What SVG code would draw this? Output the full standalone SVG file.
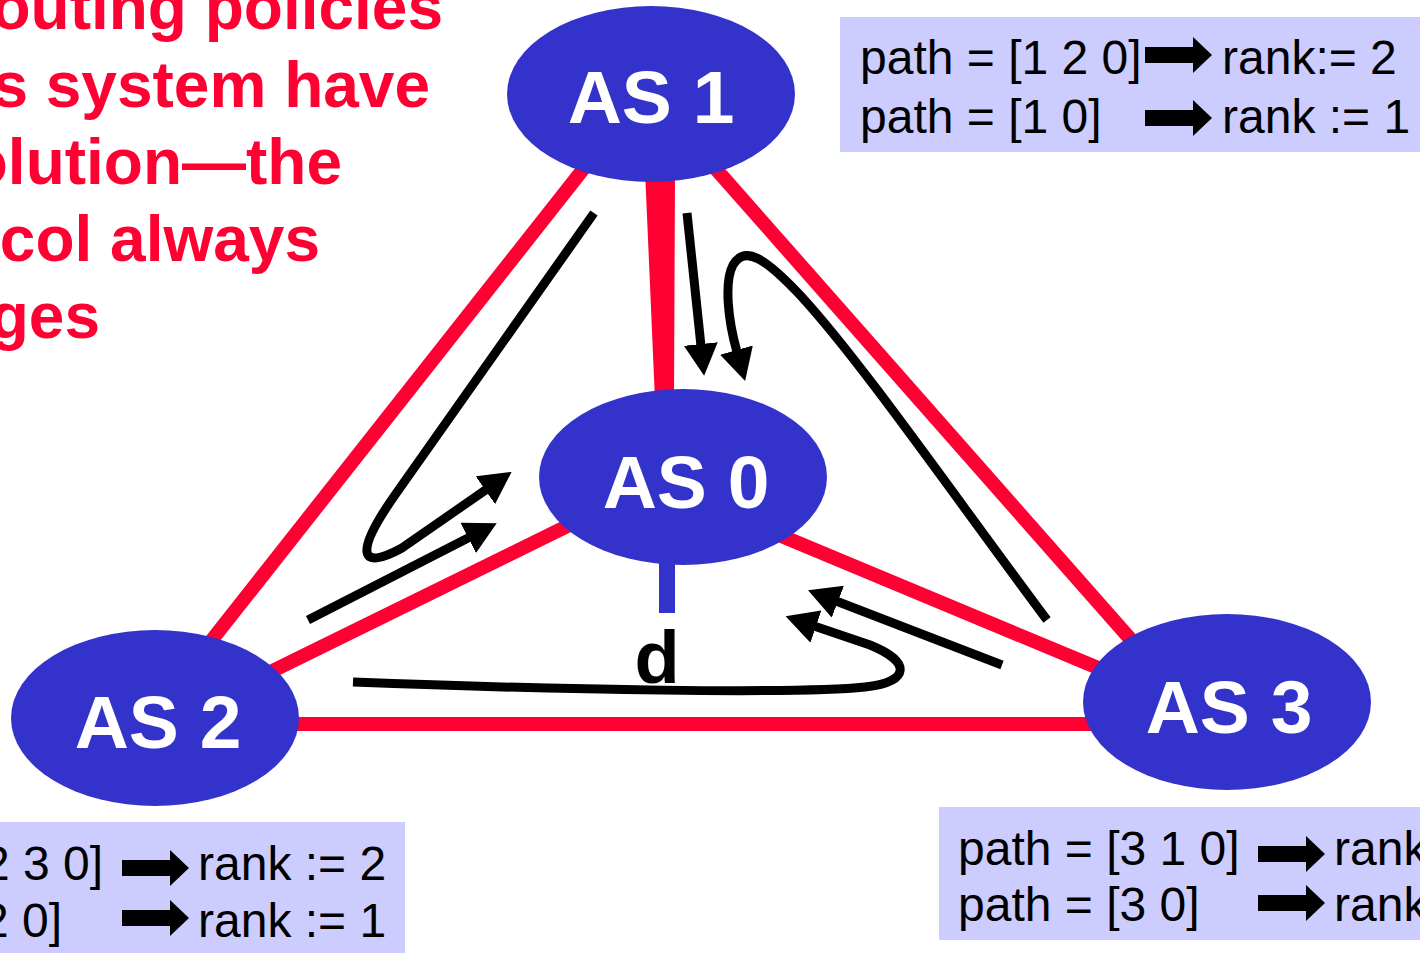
<svg xmlns="http://www.w3.org/2000/svg" width="1420" height="953" viewBox="0 0 1420 953">
<defs>
<style>
.red{stroke:#FF0033;stroke-width:14;fill:none}
.as{fill:#3333CC}
.lbl{font-family:"Liberation Sans",Arial,sans-serif;font-weight:bold;font-size:75px;fill:#FFFFFF;text-anchor:middle}
.note{font-family:"Liberation Sans",Arial,sans-serif;font-weight:bold;font-size:64px;fill:#FF0033;text-anchor:end}
.box{fill:#CCCCFF}
.bt{font-family:"Liberation Sans",Arial,sans-serif;font-size:48px;fill:#000000}
.flow{stroke:#000000;stroke-width:9;fill:none;marker-end:url(#ah)}
</style>
<marker id="ah" markerUnits="userSpaceOnUse" markerWidth="34" markerHeight="34" viewBox="0 0 34 34" refX="2" refY="17" orient="auto">
<path d="M0,0 L32,17 L0,34 Z" fill="#000000"/>
</marker>
<path id="blk" d="M0,-8 H48 V-18 L67,0 L48,18 V8 H0 Z" fill="#000000"/>
</defs>
<rect width="1420" height="953" fill="#FFFFFF"/>

<g id="note">
<text class="note" x="443" y="29">outing policies</text>
<text class="note" x="430" y="107">s system have</text>
<text class="note" x="342" y="184">olution—the</text>
<text class="note" x="320" y="261">col always</text>
<text class="note" x="100" y="338">ges</text>
</g>

<g id="links">
<line class="red" x1="592" y1="158" x2="204" y2="650"/>
<line class="red" x1="708" y1="160" x2="1140" y2="650"/>
<line class="red" x1="600" y1="510" x2="250" y2="682"/>
<line class="red" x1="760" y1="527" x2="1115" y2="675"/>
<line class="red" x1="280" y1="724" x2="1100" y2="724"/>
<polygon points="645,170 675,170 674,400 655,400" fill="#FF0033"/>
<rect x="659" y="555" width="16" height="58" fill="#3333CC"/>
</g>

<g id="as1">
<ellipse class="as" cx="651" cy="94" rx="144" ry="88"/>
<text class="lbl" x="651" y="123">AS 1</text>
</g>
<g id="as0">
<ellipse class="as" cx="683" cy="477" rx="144" ry="88"/>
<text class="lbl" x="686" y="508">AS 0</text>
</g>
<g id="as2">
<ellipse class="as" cx="155" cy="718" rx="144" ry="88"/>
<text class="lbl" x="158" y="748">AS 2</text>
</g>
<g id="as3">
<ellipse class="as" cx="1227" cy="702" rx="144" ry="88"/>
<text class="lbl" x="1229" y="733">AS 3</text>
</g>

<g id="d">
<text x="657" y="683" font-family="Liberation Sans, Arial, sans-serif" font-weight="bold" font-size="74" fill="#000000" text-anchor="middle">d</text>
</g>

<g id="connectors">
<path class="flow" d="M594,213 L395,495 C355,552 358,572 402,548 L487,489"/>
<path class="flow" d="M308,620 L470,537"/>
<path class="flow" d="M687,213 L701,346"/>
<path class="flow" d="M1047,620 C950,490 860,360 800,295 C765,258 745,245 733,265 C724,282 728,320 737,352"/>
<path class="flow" d="M1002,665 L836,601"/>
<path class="flow" d="M353,682 C560,690 800,694 865,687 C910,682 912,662 870,645 L814,626"/>
</g>

<g id="box1">
<rect class="box" x="840" y="17" width="580" height="135"/>
<text class="bt" x="860" y="74">path = [1 2 0]</text>
<text class="bt" x="860" y="133">path = [1 0]</text>
<use href="#blk" x="1145" y="55"/>
<use href="#blk" x="1145" y="118"/>
<text class="bt" x="1222" y="74">rank:= 2</text>
<text class="bt" x="1222" y="133">rank := 1</text>
</g>

<g id="box2">
<rect class="box" x="0" y="822" width="405" height="131"/>
<text class="bt" x="103" y="880" text-anchor="end">2 3 0]</text>
<text class="bt" x="62" y="937" text-anchor="end">2 0]</text>
<use href="#blk" x="122" y="868"/>
<use href="#blk" x="122" y="918"/>
<text class="bt" x="198" y="880">rank := 2</text>
<text class="bt" x="198" y="937">rank := 1</text>
</g>

<g id="box3">
<rect class="box" x="939" y="807" width="481" height="133"/>
<text class="bt" x="958" y="865">path = [3 1 0]</text>
<text class="bt" x="958" y="921">path = [3 0]</text>
<use href="#blk" x="1258" y="854"/>
<use href="#blk" x="1258" y="903"/>
<text class="bt" x="1334" y="865">rank</text>
<text class="bt" x="1334" y="921">rank</text>
</g>
</svg>
